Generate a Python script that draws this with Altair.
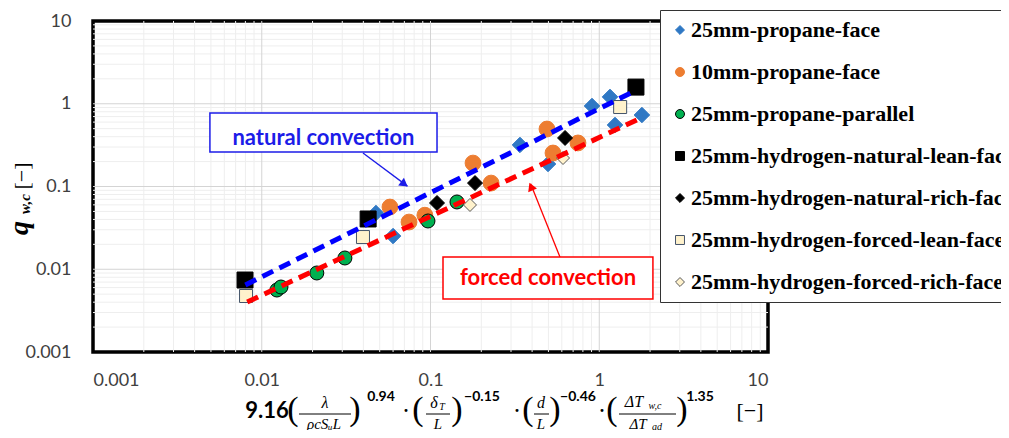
import altair as alt
import pandas as pd

# ---------------- data ----------------
series = [
    "25mm-propane-face",
    "10mm-propane-face",
    "25mm-propane-parallel",
    "25mm-hydrogen-natural-lean-face",
    "25mm-hydrogen-natural-rich-face",
    "25mm-hydrogen-forced-lean-face",
    "25mm-hydrogen-forced-rich-face",
]

p25_face_x = [0.0475, 0.060, 0.339, 0.497, 0.906, 1.158, 1.24, 1.79]
p25_face_y = [0.0478, 0.0252, 0.318, 0.187, 0.94, 1.21, 0.554, 0.731]

p10_face_x = [0.0575, 0.0746, 0.0926, 0.1786, 0.2286, 0.490, 0.532, 0.748]
p10_face_y = [0.0565, 0.0372, 0.0450, 0.192, 0.110, 0.495, 0.254, 0.336]

p25_par_x = [0.0123, 0.0130, 0.0212, 0.0311, 0.0966, 0.1435]
p25_par_y = [0.00561, 0.00610, 0.00901, 0.01368, 0.0383, 0.0650]

h_nat_lean_x = [0.00796, 0.0427, 1.65]
h_nat_lean_y = [0.00741, 0.0405, 1.59]

h_nat_rich_x = [0.1093, 0.1836, 0.627]
h_nat_rich_y = [0.0632, 0.110, 0.386]

h_for_lean_x = [0.00807, 0.0398, 1.33]
h_for_lean_y = [0.00475, 0.0245, 0.913]

h_for_rich_x = [0.1714, 0.610]
h_for_rich_y = [0.0598, 0.221]

natural_x = [0.0080, 1.58]
natural_y = [0.00646, 1.39]
forced_x = [0.0082, 1.82]
forced_y = [0.00402, 0.692]

tick_values = [0.001, 0.01, 0.1, 1, 10]
major_grid = [0.01, 0.1, 1]
minor_grid = [k * 10.0 ** n for n in range(-3, 1) for k in range(2, 10)]

# ---------------- styles ----------------
fills = ["#2F78C4", "#ED7D31", "#00B050", "#000000", "#000000", "#FFF2CC", "#FFF2CC"]
strokes = ["#2F78C4", "#ED7D31", "#000000", "#000000", "#000000", "#44546A", "#595959"]
shapes = ["diamond", "circle", "circle", "square", "diamond", "square", "diamond"]
sizes = [240, 250, 196, 256, 225, 169, 169]

all_x = [p25_face_x, p10_face_x, p25_par_x, h_nat_lean_x, h_nat_rich_x, h_for_lean_x, h_for_rich_x]
all_y = [p25_face_y, p10_face_y, p25_par_y, h_nat_lean_y, h_nat_rich_y, h_for_lean_y, h_for_rich_y]

XS = alt.Scale(type="log", domain=[0.001, 10], nice=False)
YS = alt.Scale(type="log", domain=[0.001, 10], nice=False)

PLOT_L, PLOT_T = 93, 21  # page position of plot origin

axis_common = dict(
    values=tick_values, format="~g", labelFont="Lato", labelFontSize=18,
    labelColor="#404040", ticks=False, tickSize=0, domain=False, grid=False, title=None,
)

legend = alt.Legend(
    title=None, orient="none", legendX=567, legendY=-11,
    strokeColor="#333333", fillColor="white", padding=9, rowPadding=20,
    labelFont="Liberation Serif", labelFontSize=22, labelFontWeight="bold",
    labelColor="black", labelLimit=500, labelOffset=0, symbolSize=80,
    symbolStrokeWidth=1,
)

minor_v = alt.Chart(pd.DataFrame({"v": minor_grid})).mark_rule(color="#EEEEEE", strokeWidth=1).encode(
    x=alt.X("v:Q", scale=XS, axis=alt.Axis(**axis_common, labelPadding=28, labelBaseline="middle")))
minor_h = alt.Chart(pd.DataFrame({"v": minor_grid})).mark_rule(color="#EEEEEE", strokeWidth=1).encode(
    y=alt.Y("v:Q", scale=YS, axis=alt.Axis(**axis_common, labelPadding=22)))
major_v = alt.Chart(pd.DataFrame({"v": major_grid})).mark_rule(color="#D4D4D4", strokeWidth=1).encode(
    x=alt.X("v:Q", scale=XS))
major_h = alt.Chart(pd.DataFrame({"v": major_grid})).mark_rule(color="#D4D4D4", strokeWidth=1).encode(
    y=alt.Y("v:Q", scale=YS))

point_layers = []
for i, (s, xs, ys) in enumerate(zip(series, all_x, all_y)):
    d = pd.DataFrame({"series": [s] * len(xs), "x": xs, "y": ys})
    point_layers.append(
        alt.Chart(d).mark_point(filled=True, opacity=1, strokeWidth=1, size=sizes[i]).encode(
            x=alt.X("x:Q", scale=XS),
            y=alt.Y("y:Q", scale=YS),
            color=alt.Color("series:N", scale=alt.Scale(domain=series, range=fills), legend=legend),
            stroke=alt.Stroke("series:N", scale=alt.Scale(domain=series, range=strokes), legend=legend),
            shape=alt.Shape("series:N", scale=alt.Scale(domain=series, range=shapes), legend=legend),
        )
    )

nat_line = alt.Chart(pd.DataFrame({"x": natural_x, "y": natural_y})).mark_line(
    color="#0000FF", strokeWidth=5, strokeDash=[12, 7]).encode(
    x=alt.X("x:Q", scale=XS), y=alt.Y("y:Q", scale=YS))
for_line = alt.Chart(pd.DataFrame({"x": forced_x, "y": forced_y})).mark_line(
    color="#FF0000", strokeWidth=5, strokeDash=[12, 7]).encode(
    x=alt.X("x:Q", scale=XS), y=alt.Y("y:Q", scale=YS))

# annotations (data coordinates)
ann = pd.DataFrame({
    "bx": [0.00493, 0.1186], "bx2": [0.1093, 2.08],
    "by": [0.773, 0.01406], "by2": [0.261, 0.00437],
    "tx": [0.0232, 0.497], "ty": [0.39, 0.0078],
    "ax": [0.0398, 0.585], "ay": [0.254, 0.01406],
    "ax2": [0.0730, 0.392], "ay2": [0.101, 0.108],
    "hx": [0.0700, 0.394], "hy": [0.107, 0.100],
    "label": ["natural convection", "forced convection"],
    "ang": [127, 337],
})
ann_cols = ["#1C1CE8", "#FF0000"]
ann_layers = []
for i in range(2):
    d = ann.iloc[[i]]
    c = ann_cols[i]
    ann_layers.append(alt.Chart(d).mark_rule(color=c, strokeWidth=1.3).encode(
        x=alt.X("ax:Q", scale=XS), y=alt.Y("ay:Q", scale=YS), x2="ax2:Q", y2="ay2:Q"))
    ann_layers.append(alt.Chart(d).mark_point(shape="triangle-up", filled=True, color=c, size=90, opacity=1).encode(
        x=alt.X("hx:Q", scale=XS), y=alt.Y("hy:Q", scale=YS), angle=alt.Angle("ang:Q", scale=None)))
    ann_layers.append(alt.Chart(d).mark_rect(fill="white", stroke=c, strokeWidth=1.5).encode(
        x=alt.X("bx:Q", scale=XS), x2="bx2:Q", y=alt.Y("by:Q", scale=YS), y2="by2:Q"))
    ann_layers.append(alt.Chart(d).mark_text(font="Lato", fontSize=22, fontWeight="bold", color=c).encode(
        x=alt.X("tx:Q", scale=XS), y=alt.Y("ty:Q", scale=YS), text="label:N"))

# ---------------- axis titles as text pieces ----------------
one = pd.DataFrame({"a": [0]})


def T(text, px, py, size, font="Liberation Serif", weight="normal", style="normal", angle=0, color="black"):
    return alt.Chart(one).mark_text(
        text=text, font=font, fontSize=size, fontWeight=weight, fontStyle=style,
        angle=angle, align="center", baseline="middle", color=color,
    ).encode(x=alt.value(px - PLOT_L), y=alt.value(py - PLOT_T))


def BAR(x1, x2, py):
    return alt.Chart(one).mark_rule(color="black", strokeWidth=1).encode(
        x=alt.value(x1 - PLOT_L), x2=alt.value(x2 - PLOT_L), y=alt.value(py - PLOT_T))


LS = "Lato"
SER = "Liberation Serif"
PAR = 34
PY = 410
formula = [
    T("9.16", 267, 411, 22, LS, "bold"),
    T("(", 293, PY, PAR, SER), T(")", 355, PY, PAR, SER),
    T("λ", 325, 403, 16, SER, "normal", "italic"),
    BAR(299, 351, 414),
    T("ρcSᵤL", 324, 424, 15, SER, "normal", "italic"),
    T("0.94", 381, 397, 14, LS, "bold"),
    T("·", 406, 412, 18, SER, "bold"),
    T("(", 418, PY, PAR, SER), T(")", 457, PY, PAR, SER),
    T("δ", 434, 403, 16, SER, "normal", "italic"),
    T("T", 442, 407, 10, SER, "normal", "italic"),
    BAR(426, 450, 414),
    T("L", 438, 424, 15, SER, "normal", "italic"),
    T("−0.15", 482, 397, 14, LS, "bold"),
    T("·", 517, 412, 18, SER, "bold"),
    T("(", 528, PY, PAR, SER), T(")", 555, PY, PAR, SER),
    T("d", 541, 403, 16, SER, "normal", "italic"),
    BAR(534, 549, 414),
    T("L", 541, 424, 15, SER, "normal", "italic"),
    T("−0.46", 578, 397, 14, LS, "bold"),
    T("·", 602, 412, 18, SER, "bold"),
    T("(", 612, PY, PAR, SER), T(")", 682, PY, PAR, SER),
    T("ΔT", 634, 402, 16, SER, "normal", "italic"),
    T("w,c", 655, 406, 10, SER, "normal", "italic"),
    BAR(619, 676, 414),
    T("ΔT", 638, 424, 15, SER, "normal", "italic"),
    T("ad", 657, 427, 10, SER, "normal", "italic"),
    T("1.35", 700, 397, 14, LS, "bold"),
    T("[−]", 750, 411, 22, SER),
]

ytitle = [
    T("[−]", 22, 176, 22, SER, angle=270),
    T("w,c", 25, 204, 15, SER, "bold", "italic", angle=270),
    T("q", 20, 228, 28, SER, "bold", "italic", angle=270),
]

chart = alt.layer(
    minor_v, minor_h, major_v, major_h,
    *point_layers, nat_line, for_line,
    *ann_layers, *formula, *ytitle,
).properties(
    width=675, height=331,
    autosize=alt.AutoSizeParams(type="none"),
    padding={"left": 85, "top": 13, "right": 233, "bottom": 78},
).configure_view(
    stroke="black", strokeWidth=3.5,
)

chart.save("out.html", embed_options={"renderer": "svg", "actions": False})
